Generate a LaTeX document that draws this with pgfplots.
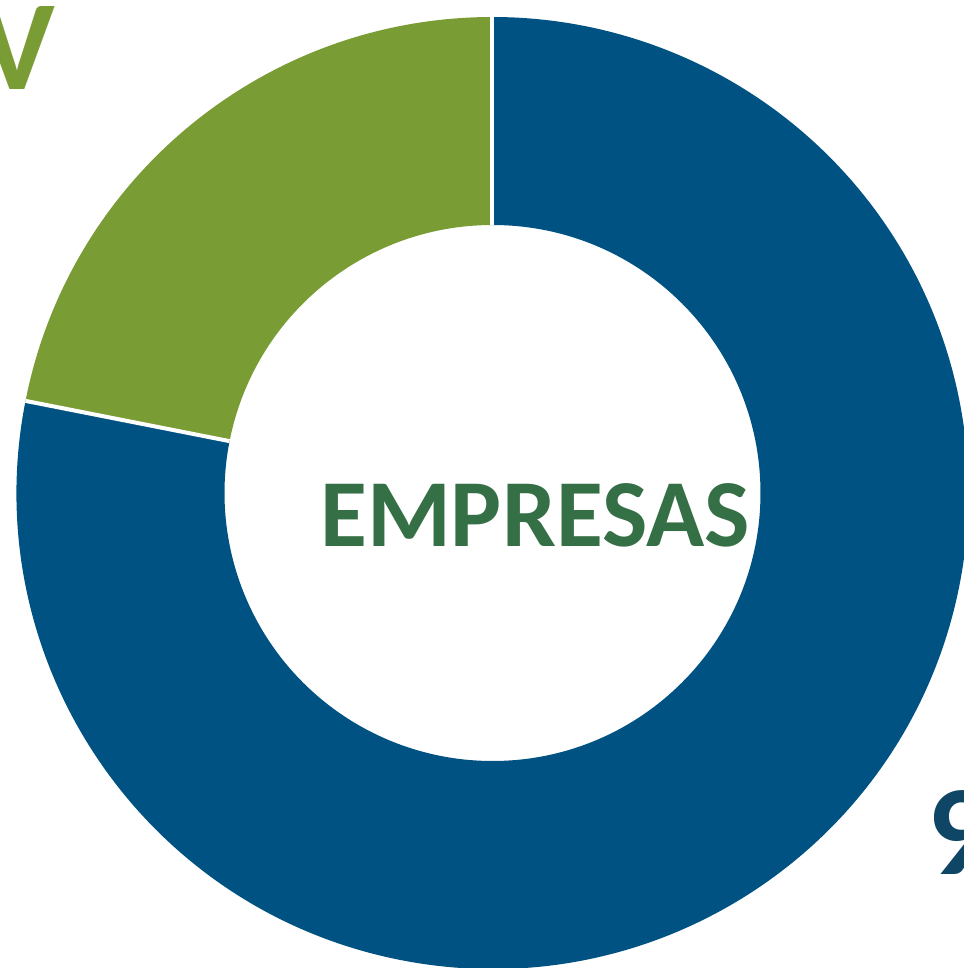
\documentclass[border=0pt]{standalone}
\usepackage{pgfplots}
\pgfplotsset{compat=1.18}
\usepackage{pgfplotstable}
\usepackage{fontspec}
\setmainfont{Carlito}

\definecolor{verde}{HTML}{7A9C34}
\definecolor{azul}{HTML}{005282}
\definecolor{texto}{HTML}{356F45}
\definecolor{numazul}{HTML}{0F4565}

% shares of the two rings, in percent
\pgfplotstableread[row sep=\\]{
share\\
21.9\\
78.1\\
}\datatable

\begin{document}
\begin{tikzpicture}
\pgfplotstablegetelem{0}{share}\of\datatable
\pgfmathsetmacro{\angA}{90+3.6*\pgfplotsretval}
% px -> pt: 0.25pt per pixel
\def\Rout{119pt}
\def\Rin{67pt}
\useasboundingbox (0,0) rectangle (241pt,242pt);
\begin{axis}[
  x=0.25pt, y=0.25pt,
  xmin=0, xmax=964, ymin=0, ymax=968,
  hide axis, clip=true,
]
% green wedge
\fill[verde] (axis cs:492.5,475) ++(90:\Rout) arc[start angle=90, end angle=\angA, radius=\Rout]
  -- ++(\angA:-52pt) arc[start angle=\angA, end angle=90, radius=\Rin] -- cycle;
% blue wedge
\fill[azul] (axis cs:492.5,475) ++(\angA:\Rout) arc[start angle=\angA, end angle=450, radius=\Rout]
  -- ++(90:-52pt) arc[start angle=450, end angle=\angA, radius=\Rin] -- cycle;
% separators
\draw[white, line width=1pt] (axis cs:492.5,475) ++(90:\Rin) -- ++(90:52pt);
\draw[white, line width=1pt] (axis cs:492.5,475) ++(\angA:\Rin) -- ++(\angA:52pt);

\node[text=texto, font=\fontsize{24}{28}\selectfont\bfseries] at (axis cs:535,453) {EMPRESAS};
\node[text=verde, font=\fontsize{32}{36}\selectfont\bfseries, anchor=north east, inner sep=0pt] at (axis cs:56,962) {V};
\node[text=numazul, font=\fontsize{32}{36}\selectfont\bfseries, anchor=north west, inner sep=0pt] at (axis cs:927,178) {9};
\end{axis}
\end{tikzpicture}
\end{document}
